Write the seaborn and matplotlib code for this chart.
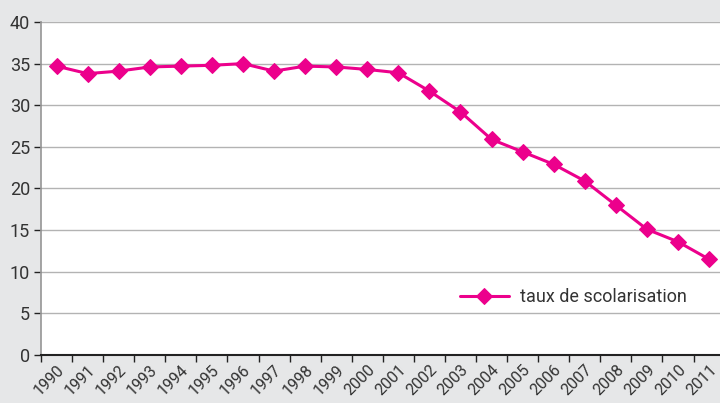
# taux de scolarisation 1990-2011, line chart with diamond markers

import matplotlib
matplotlib.use("Agg")
import matplotlib.pyplot as plt
import seaborn as sns
import pandas as pd

years = [str(y) for y in range(1990, 2012)]
taux = [34.7, 33.8, 34.1, 34.6, 34.7, 34.8, 35.0, 34.1, 34.7, 34.6, 34.3,
        33.9, 31.7, 29.2, 25.9, 24.4, 22.9, 20.9, 18.0, 15.1, 13.6, 11.5]
series_label = "taux de scolarisation"

df = pd.DataFrame({"annee": years, "taux": taux})

sns.set_theme(style="white")
plt.rcParams["font.family"] = ["Roboto", "DejaVu Sans"]

pink = "#ec008c"
bg = "#e6e7e8"

fig = plt.figure(figsize=(7.2, 4.03), dpi=100, facecolor=bg)
# axes runs a little past the right edge of the figure, as in the original
ax = fig.add_axes([41 / 720, 48 / 403, 683.6 / 720, 333 / 403])
ax.set_facecolor("white")

sns.lineplot(data=df, x="annee", y="taux", ax=ax, color=pink, linewidth=2.2,
             marker="D", markersize=8.5, markeredgecolor=pink, label=series_label,
             sort=False)

ax.set_xlim(-0.5, len(years) - 0.5)
ax.set_ylim(0, 40)
ax.set_yticks(range(0, 41, 5))
ax.yaxis.grid(True, color="#b3b3b3", linewidth=1)
ax.set_axisbelow(True)
ax.set_xlabel("")
ax.set_ylabel("")

# ticks between categories, labels at category centres
ax.set_xticks([i - 0.5 for i in range(len(years) + 1)], minor=False)
ax.set_xticklabels([])
ax.set_xticks(range(len(years)), minor=True)
ax.set_xticklabels(years, minor=True, rotation=45, ha="right",
                   rotation_mode="anchor", fontsize=11.5, color="#333333")
ax.tick_params(axis="x", which="major", length=5, width=1, color="#222222",
               direction="out", bottom=True)
ax.tick_params(axis="x", which="minor", length=0, pad=5)
ax.tick_params(axis="y", length=5, width=1, color="#222222", direction="out",
               left=True, labelsize=13, labelcolor="#333333", pad=3)

for s in ["top", "right"]:
    ax.spines[s].set_visible(False)
ax.spines["left"].set_color("#999999")
ax.spines["bottom"].set_color("#222222")
ax.spines["bottom"].set_linewidth(1.5)

ax.legend(loc="center left", bbox_to_anchor=(0.613, 0.174), frameon=False,
          fontsize=13, handlelength=2.7, handletextpad=0.6, borderpad=0,
          borderaxespad=0, labelcolor="#333333")

fig.savefig("out.png", dpi=100, facecolor=bg)
